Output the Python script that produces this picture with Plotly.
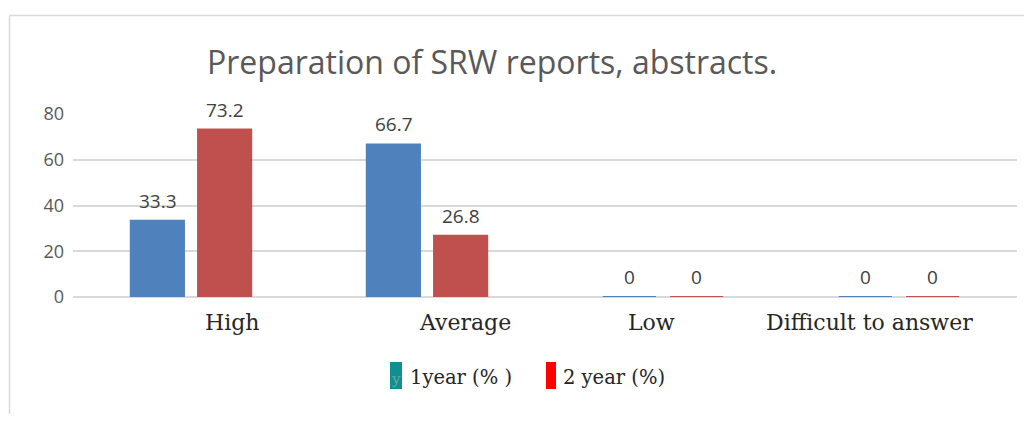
import plotly.graph_objects as go

categories = ["High", "Average", "Low", "Difficult to answer"]
year1 = [33.3, 66.7, 0, 0]
year2 = [73.2, 26.8, 0, 0]
y_ticks = [0, 20, 40, 60, 80]
series_names = ["1year (% )", "2 year (%)"]
bar_colors = ["#4F81BD", "#C0504D"]
legend_colors = ["#0E9090", "#FF0000"]

# page body has an 8px margin; work in reference pixels and convert
OFF = 8
W, H = 1032 - 2 * OFF, 422 - 2 * OFF
L, R, T, B = 73, 1017, 114, 297  # plot area in reference pixels

def px(x):
    return (x - L) / (R - L)

def py(y):
    return (B - y) / (B - T)

fig = go.Figure()
for vals, col in zip([year1, year2], bar_colors):
    fig.add_trace(go.Bar(
        x=categories, y=vals,
        marker=dict(color=col, line=dict(color=col, width=2)),
        showlegend=False,
    ))

annotations = []
# data labels above bars
SLOT = 67
for i, vals in enumerate([year1, year2]):
    shift = -SLOT / 2 if i == 0 else SLOT / 2
    for c, v in zip(categories, vals):
        annotations.append(dict(
            x=c, y=v, xref="x", yref="y", text=f"{v:g}", showarrow=False,
            xanchor="center", yanchor="middle", xshift=shift, yshift=20,
            font=dict(family="Open Sans, sans-serif", size=19, color="#404040"),
        ))

# category labels (hand-placed in the original, slightly off the bar groups)
label_x = [232, 465, 651, 869]
for c, lx in zip(categories, label_x):
    annotations.append(dict(
        text=c, xref="paper", yref="paper", x=px(lx), y=py(322), xanchor="center", yanchor="middle",
        showarrow=False, font=dict(family="DejaVu Serif, serif", size=22, color="#262626"),
    ))

shapes = [
    dict(type="line", xref="paper", yref="paper", x0=px(9.5), x1=px(9.5), y0=py(15.5), y1=py(430),
         line=dict(color="#D9D9D9", width=1.5)),
    dict(type="line", xref="paper", yref="paper", x0=px(9.5), x1=px(1040), y0=py(15.5), y1=py(15.5),
         line=dict(color="#D9D9D9", width=1.5)),
]
sw_x = [(390, 402), (546, 556)]
for (x0, x1), col in zip(sw_x, legend_colors):
    shapes.append(dict(type="rect", xref="paper", yref="paper", x0=px(x0), x1=px(x1),
                       y0=py(389), y1=py(362), fillcolor=col, line=dict(width=0)))

annotations += [
    dict(text="Preparation of SRW reports, abstracts.", xref="paper", yref="paper",
         x=px(492), y=py(62), xanchor="center", yanchor="middle", showarrow=False,
         font=dict(family="Open Sans, sans-serif", size=32, color="#595959")),
    dict(text="y", xref="paper", yref="paper", x=px(396), y=py(379), xanchor="center", yanchor="middle",
         showarrow=False, font=dict(family="DejaVu Serif, serif", size=15, color="#6FA3A3")),
    dict(text=series_names[0], xref="paper", yref="paper", x=px(408), y=py(377), xanchor="left",
         yanchor="middle", showarrow=False, font=dict(family="DejaVu Serif, serif", size=19.5, color="#262626")),
    dict(text=series_names[1], xref="paper", yref="paper", x=px(561), y=py(377), xanchor="left",
         yanchor="middle", showarrow=False, font=dict(family="DejaVu Serif, serif", size=19.5, color="#262626")),
]

fig.update_layout(
    width=W, height=H,
    margin=dict(l=L - OFF, r=W - (R - OFF), t=T - OFF, b=H - (B - OFF), pad=0),
    paper_bgcolor="white", plot_bgcolor="white",
    barmode="group", bargap=0.43, bargroupgap=0.21,
    shapes=shapes, annotations=annotations,
    xaxis=dict(showgrid=False, showline=False, ticks="", showticklabels=False),
    yaxis=dict(range=[0, 80], tickvals=y_ticks, showgrid=True, gridcolor="#D9D9D9", gridwidth=1.5,
               zeroline=True, zerolinecolor="#D9D9D9", zerolinewidth=1.5, showline=False, ticks="",
               ticklabelstandoff=8,
               tickfont=dict(family="Open Sans, sans-serif", size=18, color="#595959")),
)

fig.write_html("out.html")
